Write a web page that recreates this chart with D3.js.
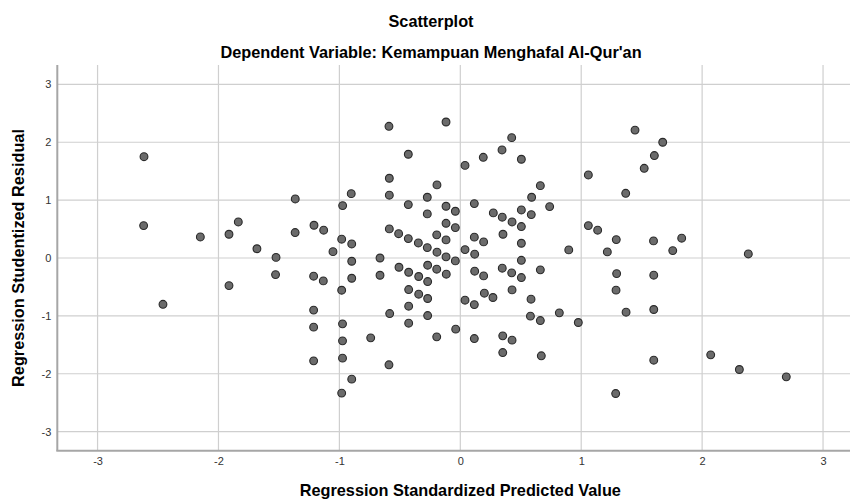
<!DOCTYPE html>
<head>
	<meta charset="utf-8">
	<title>Scatterplot</title>
	<script src="https://d3js.org/d3.v7.min.js"></script>
	<style>
	body { margin:0; background:#fff; }
	text { font-family: "Liberation Sans", Arial, sans-serif; }
	.grid line { stroke:#cfcfcf; stroke-width:1.2px; }
	.axisline { stroke:#a6a6a6; stroke-width:2px; }
	.tick text { fill:#333 !important; font-size:11px; }
	.dot { fill:#6b6b6b; stroke:#2a2a2a; stroke-width:1.1px; }
	.title { font-weight:bold; font-size:16.3px; fill:#000; }
	</style>
</head>
<body>
<div class="chartContainer"></div>
<script>
// regression standardized predicted value (x) / studentized residual (y)
var predicted = [-2.616,-2.619,-2.150,-1.836,-1.913,-1.682,-1.913,-2.459,-0.590,-0.118,
	-0.430,-0.587,-0.193,-1.365,-0.902,-0.973,-0.587,-0.273,-0.430,-0.118,
	-0.273,-0.118,-1.524,-1.366,-1.210,-1.130,-1.053,-0.981,-0.898,-0.587,
	-0.510,-0.430,-0.347,-0.273,-0.195,-0.193,-0.118,-0.118,-0.664,-0.898,
	-1.528,-1.213,-1.133,-0.898,-0.664,-0.981,-0.507,-0.427,-0.344,-0.270,
	-0.270,-0.195,-0.116,-0.427,-0.344,-0.270,-0.427,-0.270,-0.427,-0.584,
	-1.213,-1.213,-1.213,-0.974,-0.974,-0.974,-0.741,-0.195,-0.590,-0.898,
	-0.981,0.425,0.345,0.190,0.505,0.039,1.445,1.059,1.368,0.662,
	0.590,0.739,0.116,-0.041,0.273,0.347,0.428,0.505,0.587,0.505,
	-0.041,0.353,0.116,0.193,0.505,0.039,0.119,0.897,1.059,1.136,
	1.290,1.216,-0.041,0.505,0.119,0.193,0.347,0.425,0.505,0.662,
	0.199,0.270,0.428,0.039,0.116,0.585,0.580,0.662,0.819,0.976,
	-0.038,0.116,0.351,0.428,0.351,0.670,1.293,1.288,1.371,1.285,
	1.674,1.605,1.521,1.598,1.831,1.757,2.382,1.600,1.600,1.600,
	2.071,2.308,2.696];
var residual = [1.75,0.56,0.364,0.623,0.41,0.16,-0.477,-0.80,2.276,2.35,
	1.793,1.378,1.263,1.02,1.112,0.905,1.085,1.05,0.923,0.894,
	0.762,0.60,0.01,0.44,0.566,0.48,0.11,0.325,0.243,0.503,
	0.42,0.335,0.26,0.18,0.40,0.10,0.313,0.02,0.0,-0.056,
	-0.287,-0.315,-0.396,-0.35,-0.298,-0.557,-0.16,-0.246,-0.32,-0.407,
	-0.125,-0.194,-0.28,-0.545,-0.626,-0.70,-0.833,-0.995,-1.127,-0.96,
	-0.90,-1.195,-1.777,-1.138,-1.432,-1.731,-1.38,-1.363,-1.846,-2.094,
	-2.335,2.08,1.867,1.74,1.706,1.60,2.21,1.435,1.118,1.25,
	1.05,0.888,0.94,0.808,0.779,0.705,0.623,0.83,0.75,0.543,
	0.525,0.41,0.36,0.278,0.255,0.145,0.066,0.14,0.56,0.48,
	0.318,0.105,-0.05,-0.04,-0.228,-0.309,-0.176,-0.257,-0.338,-0.205,
	-0.608,-0.683,-0.551,-0.729,-0.805,-0.712,-1.005,-1.081,-0.948,-1.115,
	-1.23,-1.392,-1.345,-1.42,-1.634,-1.69,-0.27,-0.556,-0.937,-2.342,
	2.0,1.77,1.55,0.295,0.342,0.128,0.07,-0.297,-0.89,-1.766,
	-1.674,-1.927,-2.054];
var tickValues = [-3,-2,-1,0,1,2,3];

var titleText = "Scatterplot";
var subtitleText = "Dependent Variable: Kemampuan Menghafal Al-Qur'an";
var xTitle = "Regression Standardized Predicted Value";
var yTitle = "Regression Studentized Residual";

var render = function() {
	var data = predicted.map(function(d, i) { return {x: d, y: residual[i]}; });

	var width = 850, height = 500;
	var plotLeft = 57.3, plotRight = 863.3, plotTop = 65, plotBottom = 450.7;

	var svg = d3.select(".chartContainer").append("svg")
		.attr("width", width)
		.attr("height", height);

	var x = d3.scaleLinear().domain([-3.333, 3.333]).range([plotLeft, plotRight]);
	var y = d3.scaleLinear().domain([-3.33, 3.335]).range([plotBottom, plotTop]);

	// grid
	svg.append("g").attr("class", "grid")
		.selectAll("line").data(tickValues).enter().append("line")
		.attr("x1", function(d) { return x(d); }).attr("x2", function(d) { return x(d); })
		.attr("y1", plotTop).attr("y2", plotBottom);
	svg.append("g").attr("class", "grid")
		.selectAll("line").data(tickValues).enter().append("line")
		.attr("y1", function(d) { return y(d); }).attr("y2", function(d) { return y(d); })
		.attr("x1", plotLeft).attr("x2", plotRight);

	// axes (labels only, lines drawn below)
	var fmt = function(d) { return String(d); };
	var xAxis = d3.axisBottom(x).tickValues(tickValues).tickSize(0).tickPadding(7).tickFormat(fmt);
	var yAxis = d3.axisLeft(y).tickValues(tickValues).tickSize(0).tickPadding(6).tickFormat(fmt);

	svg.append("g").attr("transform", "translate(0," + plotBottom + ")").call(xAxis)
		.select(".domain").remove();
	svg.append("g").attr("transform", "translate(" + plotLeft + ",0)").call(yAxis)
		.select(".domain").remove();
	svg.selectAll(".tick text").attr("fill", "#333").style("font-family", "'Liberation Sans', Arial, sans-serif");

	svg.append("line").attr("class", "axisline")
		.attr("x1", plotLeft).attr("x2", plotLeft).attr("y1", plotTop).attr("y2", plotBottom);
	svg.append("line").attr("class", "axisline")
		.attr("x1", plotLeft - 1).attr("x2", plotRight).attr("y1", plotBottom).attr("y2", plotBottom);

	// points
	svg.append("g").selectAll("circle").data(data).enter().append("circle")
		.attr("class", "dot")
		.attr("cx", function(d) { return x(d.x); })
		.attr("cy", function(d) { return y(d.y); })
		.attr("r", 3.9);

	// titles
	svg.append("text").attr("class", "title")
		.attr("x", 431).attr("y", 27).attr("text-anchor", "middle").text(titleText);
	svg.append("text").attr("class", "title")
		.attr("x", 431).attr("y", 58).attr("text-anchor", "middle").text(subtitleText);
	svg.append("text").attr("class", "title")
		.attr("x", x(0)).attr("y", 496).attr("text-anchor", "middle").text(xTitle);
	svg.append("text").attr("class", "title")
		.attr("transform", "translate(24," + y(0) + ") rotate(-90)")
		.attr("text-anchor", "middle").text(yTitle);
};

render();
</script>
</body>
</html>
